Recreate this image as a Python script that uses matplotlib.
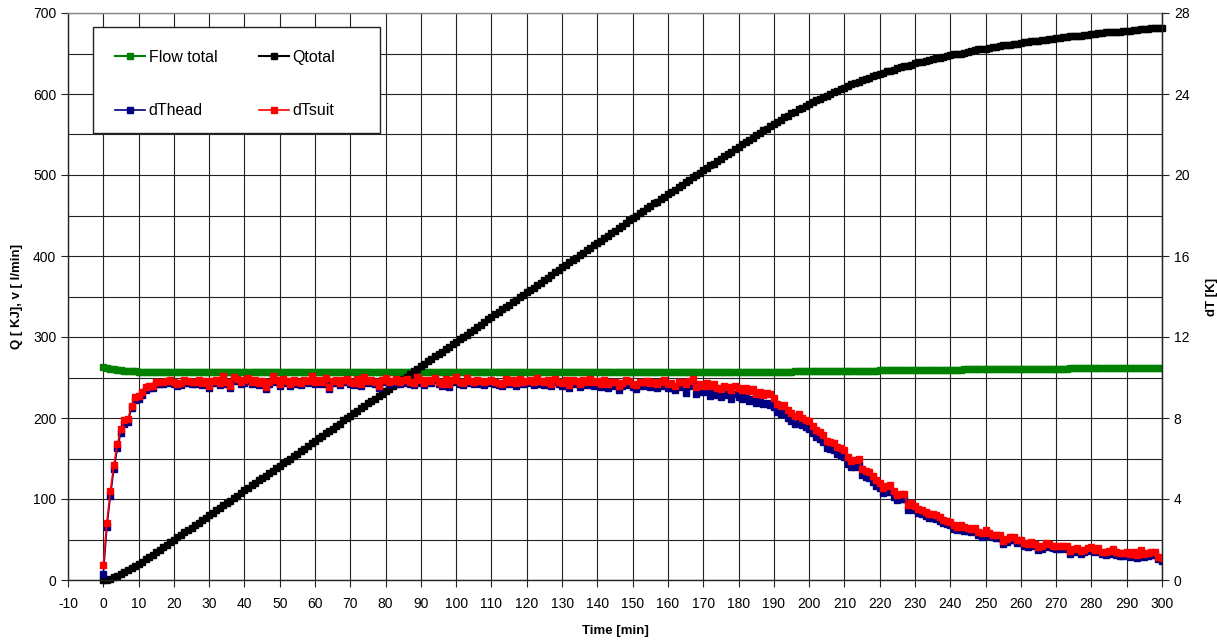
import matplotlib.pyplot as plt
from matplotlib.patches import Rectangle
from matplotlib.ticker import MultipleLocator

plt.rcParams['font.family'] = ['Liberation Sans', 'DejaVu Sans']
plt.rcParams['axes.unicode_minus'] = False

# one sample per minute
time_min = list(range(0, 301))

flow_total = [
    262.5, 261.6, 260.8, 260.1, 259.5, 259.0, 258.6, 258.2, 257.9, 257.6,
    257.4, 257.2, 257.0, 256.9, 256.8, 256.7, 256.7, 256.6, 256.6, 256.6,
    256.5, 256.6, 256.6, 256.5, 256.6, 256.7, 256.6, 256.6, 256.5, 256.6,
    256.6, 256.7, 256.6, 256.6, 256.7, 256.6, 256.6, 256.7, 256.7, 256.6,
    256.7, 256.7, 256.6, 256.7, 256.7, 256.8, 256.7, 256.7, 256.6, 256.7,
    256.7, 256.8, 256.7, 256.7, 256.8, 256.7, 256.7, 256.8, 256.8, 256.7,
    256.8, 256.8, 256.7, 256.8, 256.8, 256.9, 256.8, 256.8, 256.7, 256.8,
    256.8, 256.9, 256.8, 256.8, 256.9, 256.8, 256.8, 256.9, 256.9, 256.8,
    256.9, 256.9, 256.8, 256.9, 256.9, 256.8, 256.9, 256.9, 256.8, 256.9,
    256.9, 256.8, 256.8, 256.9, 256.8, 256.8, 256.9, 256.8, 256.8, 256.7,
    256.8, 256.8, 256.7, 256.8, 256.7, 256.7, 256.8, 256.7, 256.7, 256.6,
    256.7, 256.7, 256.6, 256.7, 256.6, 256.6, 256.7, 256.6, 256.6, 256.5,
    256.6, 256.6, 256.5, 256.6, 256.5, 256.5, 256.6, 256.5, 256.5, 256.4,
    256.5, 256.5, 256.4, 256.5, 256.4, 256.4, 256.5, 256.4, 256.4, 256.5,
    256.4, 256.4, 256.5, 256.4, 256.4, 256.5, 256.4, 256.5, 256.5, 256.4,
    256.5, 256.5, 256.4, 256.5, 256.5, 256.6, 256.5, 256.5, 256.6, 256.5,
    256.6, 256.6, 256.5, 256.6, 256.6, 256.7, 256.6, 256.6, 256.7, 256.7,
    256.7, 256.7, 256.8, 256.7, 256.8, 256.8, 256.8, 256.9, 256.8, 256.9,
    256.9, 256.9, 257.0, 256.9, 257.0, 257.0, 257.1, 257.0, 257.1, 257.1,
    257.2, 257.2, 257.3, 257.3, 257.4, 257.4, 257.5, 257.5, 257.6, 257.6,
    257.7, 257.7, 257.8, 257.8, 257.9, 257.9, 258.0, 258.0, 258.1, 258.1,
    258.2, 258.2, 258.3, 258.3, 258.4, 258.4, 258.5, 258.5, 258.6, 258.6,
    258.7, 258.7, 258.8, 258.8, 258.9, 258.9, 259.0, 259.0, 259.1, 259.1,
    259.2, 259.2, 259.3, 259.3, 259.4, 259.4, 259.5, 259.5, 259.6, 259.6,
    259.7, 259.7, 259.8, 259.8, 259.9, 259.9, 260.0, 260.0, 260.1, 260.1,
    260.2, 260.2, 260.3, 260.3, 260.4, 260.4, 260.5, 260.5, 260.6, 260.6,
    260.7, 260.7, 260.8, 260.8, 260.8, 260.9, 260.9, 260.9, 261.0, 261.0,
    261.0, 261.1, 261.1, 261.1, 261.2, 261.2, 261.2, 261.3, 261.3, 261.3,
    261.4, 261.4, 261.4, 261.4, 261.5, 261.5, 261.5, 261.5, 261.6, 261.6,
    261.6, 261.6, 261.7, 261.7, 261.7, 261.7, 261.7, 261.8, 261.8, 261.8,
    261.8,
]

q_total = [
    0, 0.5, 1.6, 3.1, 5.0, 7.2, 9.5, 12.0, 14.5, 17.1,
    19.9, 22.7, 25.6, 28.5, 31.4, 34.4, 37.4, 40.4, 43.4, 46.4,
    49.5, 52.6, 55.6, 58.7, 61.7, 64.8, 67.8, 70.9, 73.9, 77.0,
    80, 83, 86, 89, 92, 95, 98, 101, 104, 108,
    111, 114, 117, 120, 123, 126, 129, 132, 135, 138,
    141, 144, 147, 150, 153, 156, 159, 162, 166, 169,
    172, 175, 178, 181, 184, 187, 190, 193, 197, 200,
    203, 206, 209, 212, 215, 218, 221, 224, 227, 230,
    233, 236, 239, 242, 245, 248, 251, 254, 258, 261,
    264, 267, 270, 273, 276, 279, 282, 285, 288, 291,
    294, 297, 300, 303, 306, 309, 312, 315, 319, 322,
    325, 328, 331, 334, 337, 340, 343, 346, 349, 352,
    355, 358, 361, 364, 367, 370, 373, 376, 380, 383,
    386, 389, 392, 395, 398, 401, 404, 407, 410, 413,
    416, 419, 422, 425, 428, 431, 434, 437, 441, 444,
    447, 450, 453, 456, 459, 462, 465, 467, 470, 473,
    476, 479, 482, 485, 488, 491, 494, 497, 500, 503,
    506, 509, 512, 514, 517, 520, 523, 526, 529, 532,
    535, 538, 541, 543, 546, 549, 552, 555, 557, 560,
    563, 565, 568, 571, 573, 576, 578, 581, 583, 585,
    588, 590, 592, 594, 596, 598, 600, 602, 604, 606,
    608, 610, 612, 614, 615, 617, 619, 620, 622, 623,
    625, 626, 628, 629, 630, 632, 633, 634, 635, 636,
    638, 639, 640, 641, 642, 643, 644, 645, 646, 647,
    648, 649, 650, 650, 651, 652, 653, 654, 655, 655,
    656, 657, 658, 658, 659, 660, 660, 661, 662, 662,
    663, 664, 664, 665, 665, 666, 667, 667, 668, 668,
    669, 669, 670, 670, 671, 671, 672, 672, 673, 673,
    674, 674, 675, 675, 676, 676, 676, 677, 677, 678,
    678, 678, 679, 679, 680, 680, 680, 681, 681, 682,
    682,
]

dt_suit = [
    0.72, 2.80, 4.40, 5.68, 6.72, 7.44, 7.88, 7.96, 8.60, 9.04,
    9.08, 9.28, 9.52, 9.56, 9.56, 9.78,
    9.80, 9.76, 9.84, 9.90, 9.78, 9.70, 9.74, 9.86, 9.82, 9.76,
    9.80, 9.88, 9.74, 9.82, 9.58, 9.84, 9.90, 9.72, 10.06, 9.78,
    9.56, 10.04, 9.92, 9.76, 9.86, 9.96, 9.80, 9.90, 9.74, 9.84,
    9.54, 9.80, 10.08, 9.86, 9.70, 9.92, 9.84, 9.66, 9.88, 9.80,
    9.74, 9.90, 9.82, 10.06, 9.76, 9.88, 9.80, 9.96, 9.52, 9.84,
    9.90, 9.72, 9.86, 9.94, 9.80, 9.74, 9.92, 9.70, 10.02, 9.84,
    9.88, 9.76, 9.60, 9.90, 9.98, 9.80, 9.84, 9.92, 9.78, 9.86,
    9.94, 9.80, 9.74, 10.02, 9.86, 9.72, 9.90, 9.84, 10.00, 9.78,
    9.70, 9.92, 9.66, 9.88, 10.04, 9.80, 9.74, 9.96, 9.84, 9.78,
    9.90, 9.82, 9.76, 9.84, 9.88, 9.80, 9.74, 9.68, 9.92, 9.80,
    9.86, 9.72, 9.94, 9.80, 9.84, 9.90, 9.78, 9.96, 9.82, 9.76,
    9.88, 9.70, 9.92, 9.80, 9.74, 9.86, 9.62, 9.90, 9.82, 9.68,
    9.88, 9.80, 9.92, 9.76, 9.84, 9.70, 9.86, 9.66, 9.80, 9.78,
    9.56, 9.74, 9.86, 9.82, 9.70, 9.64, 9.80, 9.76, 9.84, 9.72,
    9.80, 9.70, 9.78, 9.86, 9.68, 9.72, 9.60, 9.76, 9.80, 9.66,
    9.82, 9.92, 9.54, 9.66, 9.60, 9.72, 9.56, 9.68, 9.50, 9.44,
    9.60, 9.52, 9.38, 9.56, 9.46, 9.40, 9.50, 9.34, 9.42, 9.20,
    9.30, 9.16, 9.24, 9.18, 9.00, 8.70, 8.60, 8.64, 8.40, 8.26,
    8.10, 8.20, 8.02, 7.90, 7.84, 7.60, 7.40, 7.30, 7.16, 6.84,
    6.80, 6.78, 6.56, 6.50, 6.40, 6.06, 5.90, 5.92, 6.00, 5.48,
    5.40, 5.32, 5.14, 4.96, 4.80, 4.56, 4.62, 4.70, 4.40, 4.22,
    4.24, 4.24, 3.70, 3.78, 3.66, 3.52, 3.44, 3.36, 3.28, 3.24,
    3.20, 3.10, 2.96, 2.92, 2.88, 2.70, 2.64, 2.72, 2.60, 2.56,
    2.52, 2.56, 2.36, 2.30, 2.46, 2.32, 2.24, 2.22, 2.20, 1.92,
    2.04, 2.14, 2.12, 1.96, 2.00, 1.84, 1.76, 1.86, 1.80, 1.64,
    1.66, 1.84, 1.78, 1.70, 1.68, 1.66, 1.70, 1.66, 1.44, 1.52,
    1.60, 1.44, 1.50, 1.56, 1.62, 1.50, 1.58, 1.40, 1.38, 1.44,
    1.54, 1.36, 1.34, 1.32, 1.38, 1.26, 1.40, 1.24, 1.46, 1.28,
    1.34, 1.36, 1.38, 1.16, 1.08,
]

dt_head = [
    0.28, 2.60, 4.16, 5.48, 6.52, 7.28, 7.68, 7.80, 8.48, 8.88,
    8.96, 9.16, 9.40, 9.46, 9.48, 9.66,
    9.70, 9.66, 9.72, 9.80, 9.68, 9.60, 9.64, 9.74, 9.72, 9.66,
    9.70, 9.76, 9.64, 9.72, 9.48, 9.72, 9.80, 9.62, 9.94, 9.68,
    9.46, 9.92, 9.82, 9.66, 9.74, 9.84, 9.70, 9.80, 9.64, 9.72,
    9.44, 9.70, 9.96, 9.76, 9.60, 9.80, 9.74, 9.56, 9.76, 9.70,
    9.64, 9.78, 9.72, 9.94, 9.66, 9.76, 9.70, 9.84, 9.42, 9.74,
    9.78, 9.62, 9.76, 9.82, 9.70, 9.64, 9.80, 9.60, 9.90, 9.74,
    9.76, 9.66, 9.50, 9.78, 9.86, 9.70, 9.72, 9.80, 9.68, 9.74,
    9.82, 9.70, 9.62, 9.90, 9.74, 9.62, 9.78, 9.72, 9.88, 9.66,
    9.60, 9.80, 9.54, 9.76, 9.92, 9.68, 9.62, 9.84, 9.72, 9.66,
    9.78, 9.70, 9.64, 9.72, 9.76, 9.68, 9.62, 9.56, 9.80, 9.68,
    9.74, 9.60, 9.82, 9.68, 9.72, 9.78, 9.64, 9.84, 9.70, 9.62,
    9.76, 9.56, 9.80, 9.66, 9.60, 9.72, 9.48, 9.76, 9.68, 9.54,
    9.72, 9.64, 9.78, 9.58, 9.68, 9.54, 9.70, 9.46, 9.62, 9.60,
    9.36, 9.56, 9.70, 9.64, 9.52, 9.44, 9.62, 9.58, 9.66, 9.52,
    9.60, 9.50, 9.58, 9.66, 9.46, 9.50, 9.36, 9.52, 9.56, 9.24,
    9.56, 9.64, 9.20, 9.38, 9.30, 9.42, 9.10, 9.36, 9.12, 9.02,
    9.26, 9.14, 8.96, 9.18, 9.04, 8.94, 9.06, 8.84, 8.96, 8.72,
    8.84, 8.70, 8.76, 8.66, 8.52, 8.30, 8.22, 8.26, 8.00, 7.86,
    7.72, 7.84, 7.64, 7.54, 7.48, 7.26, 7.06, 6.96, 6.82, 6.50,
    6.46, 6.44, 6.22, 6.16, 6.06, 5.74, 5.56, 5.58, 5.70, 5.18,
    5.10, 5.02, 4.84, 4.66, 4.52, 4.28, 4.36, 4.44, 4.12, 3.96,
    3.98, 3.98, 3.46, 3.56, 3.44, 3.32, 3.24, 3.16, 3.08, 3.04,
    3.02, 2.92, 2.80, 2.76, 2.72, 2.54, 2.48, 2.56, 2.44, 2.40,
    2.36, 2.40, 2.20, 2.14, 2.30, 2.16, 2.10, 2.08, 2.06, 1.76,
    1.90, 2.00, 1.98, 1.82, 1.86, 1.70, 1.62, 1.72, 1.66, 1.50,
    1.52, 1.70, 1.64, 1.56, 1.54, 1.52, 1.56, 1.52, 1.30, 1.38,
    1.46, 1.30, 1.36, 1.42, 1.48, 1.36, 1.44, 1.26, 1.24, 1.30,
    1.40, 1.22, 1.20, 1.18, 1.24, 1.12, 1.26, 1.10, 1.32, 1.14,
    1.20, 1.22, 1.24, 1.02, 0.94,
]

W, H = 1217, 640
fig = plt.figure(figsize=(W / 100, H / 100), dpi=100)
ax = fig.add_axes([68 / W, 60 / H, 1094 / W, 567 / H])
ax2 = ax.twinx()

l_flow, = ax.plot(time_min, flow_total, color='#008000', marker='s', markersize=5,
                  linewidth=1.5, label='Flow total')
l_q, = ax.plot(time_min, q_total, color='black', marker='s', markersize=5,
               linewidth=1.5, label='Qtotal', clip_on=False)
l_head, = ax2.plot(time_min, dt_head, color='#000080', marker='s', markersize=5,
                   linewidth=1.2, label='dThead')
l_suit, = ax2.plot(time_min, dt_suit, color='#ff0000', marker='s', markersize=5,
                   linewidth=1.2, label='dTsuit')

ax.set_xlim(-10, 300)
ax.set_ylim(0, 700)
ax2.set_ylim(0, 28)
ax.xaxis.set_major_locator(MultipleLocator(10))
ax.yaxis.set_major_locator(MultipleLocator(100))
ax.yaxis.set_minor_locator(MultipleLocator(50))
ax2.yaxis.set_major_locator(MultipleLocator(4))

ax.grid(True, which='both', color='#222222', linewidth=0.8)
ax.tick_params(which='minor', length=0)
ax.tick_params(axis='y', which='major', direction='out', length=5, width=0.8,
               labelsize=10, color='#222222')
ax.tick_params(axis='x', which='major', direction='out', length=5, width=0.8,
               labelsize=10, color='#222222', pad=7)
ax2.tick_params(which='major', direction='out', length=5, width=0.8,
                labelsize=10, color='#222222')

for sp in ax.spines.values():
    sp.set_linewidth(1.0)
    sp.set_color('#222222')
ax.spines['top'].set_color('#888888')
ax2.spines['top'].set_visible(False)
ax2.spines['left'].set_visible(False)
ax2.spines['bottom'].set_visible(False)
ax2.spines['right'].set_color('#222222')

ax.set_xlabel('Time [min]', fontsize=9.5, fontweight='bold', labelpad=10)
ax.set_ylabel('Q [ KJ], v [ l/min]', fontsize=9.5, fontweight='bold', labelpad=7)
ax2.set_ylabel('dT [K]', fontsize=9.5, fontweight='bold', labelpad=12)

# legend box drawn separately (Excel style, wider on the right)
box = Rectangle((25 / 1094, (580 - 133) / 567), 287 / 1094, 106 / 567,
                transform=ax2.transAxes, facecolor='white', edgecolor='#222222',
                linewidth=1.0, zorder=3)
ax2.add_patch(box)

leg = ax2.legend([l_flow, l_head, l_q, l_suit],
                 ['Flow total', 'dThead', 'Qtotal', 'dTsuit'],
                 ncol=2, loc='upper left', bbox_to_anchor=(115 / W, 1 - 50 / H),
                 bbox_transform=fig.transFigure, borderaxespad=0, borderpad=0,
                 fontsize=11.5, frameon=False, handlelength=1.9,
                 handletextpad=0.2, labelspacing=2.4, columnspacing=2.6)
leg.set_zorder(5)

fig.savefig('out.png', dpi=100)
